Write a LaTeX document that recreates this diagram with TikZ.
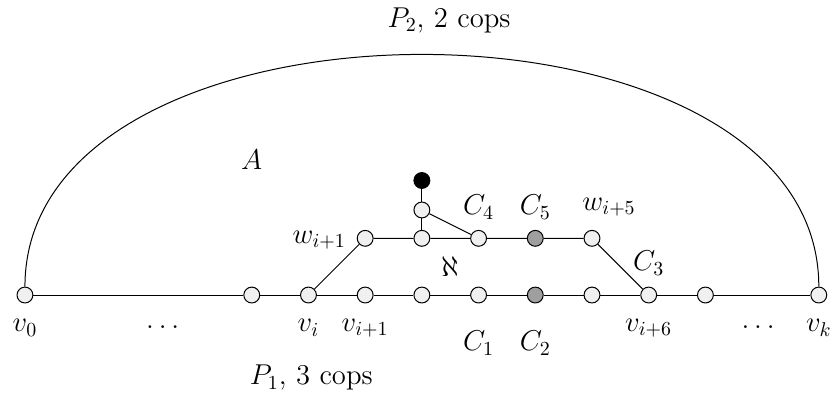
\documentclass[tikz,border=0pt]{standalone}
\begin{document}
\begin{tikzpicture}[
  line width=0.5pt,
  vtx/.style={circle,draw,fill=gray!12,inner sep=0pt,minimum size=0.28cm},
  gvtx/.style={vtx,fill=gray!75},
  bvtx/.style={vtx,fill=black},
  lbl/.style={font=\Large},
]
\useasboundingbox (-0.44,-1.887) rectangle (14.215,5.203);
% bottom path
\node[vtx] (v0) at (0,0) {};
\node[vtx] (a1) at (4,0) {};
\node[vtx] (vi) at (5,0) {};
\node[vtx] (vi1) at (6,0) {};
\node[vtx] (b7) at (7,0) {};
\node[vtx] (b8) at (8,0) {};
\node[gvtx] (b9) at (9,0) {};
\node[vtx] (b10) at (10,0) {};
\node[vtx] (vi6) at (11,0) {};
\node[vtx] (b12) at (12,0) {};
\node[vtx] (vk) at (14,0) {};
% upper path
\node[vtx] (w1) at (6,1) {};
\node[vtx] (u7) at (7,1) {};
\node[vtx] (u8) at (8,1) {};
\node[gvtx] (u9) at (9,1) {};
\node[vtx] (w5) at (10,1) {};
\node[vtx] (t7) at (7,1.5) {};
\node[bvtx] (top) at (7,2.02) {};
% edges
\draw (v0) -- (a1) -- (vi) -- (vi1) -- (b7) -- (b8) -- (b9) -- (b10) -- (vi6) -- (b12) -- (vk);
\draw (vi) -- (w1) -- (u7) -- (u8) -- (u9) -- (w5) -- (vi6);
\draw (u7) -- (t7) -- (top);
\draw (t7) -- (u8);
\draw (v0) to[out=90,in=90,looseness=1.0] (vk);
% labels
\node[lbl] (lv0) at (0,-0.58) {$v_0$};
\node[lbl] (ld1) at (2.43,-0.56) {$\dots$};
\node[lbl] (lvi) at (5,-0.58) {$v_i$};
\node[lbl] (lvi1) at (6,-0.58) {$v_{i+1}$};
\node[lbl] (lc1) at (8,-0.85) {$C_1$};
\node[lbl] (lc2) at (9,-0.85) {$C_2$};
\node[lbl] (lvi6) at (11,-0.58) {$v_{i+6}$};
\node[lbl] (ld2) at (12.93,-0.56) {$\dots$};
\node[lbl] (lvk) at (14,-0.58) {$v_k$};
\node[lbl] (lw1) at (5.19,0.97) {$w_{i+1}$};
\node[lbl] (lc4) at (8,1.55) {$C_4$};
\node[lbl] (lc5) at (9,1.55) {$C_5$};
\node[lbl] (lw5) at (10.3,1.55) {$w_{i+5}$};
\node[lbl] (lc3) at (11,0.56) {$C_3$};
\node[lbl] (lal) at (7.5,0.5) {$\aleph$};
\node[lbl] (lA) at (4,2.38) {$A$};
\node[lbl] (lP2) at (7.48,4.85) {$P_2$, 2 cops};
\node[lbl] (lP1) at (5.05,-1.46) {$P_1$, 3 cops};
\end{tikzpicture}
\end{document}
